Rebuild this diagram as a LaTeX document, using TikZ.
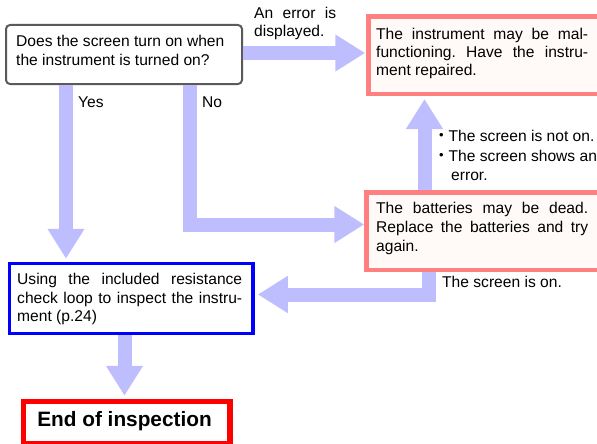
\documentclass[tikz,border=0pt]{standalone}
\usepackage{fontspec}
\setmainfont{Liberation Sans}
\usetikzlibrary{arrows.meta}
\definecolor{arrowc}{RGB}{190,190,255}
\definecolor{pinkb}{RGB}{255,128,128}
\definecolor{pinkf}{RGB}{255,250,247}
\definecolor{qgray}{RGB}{90,90,90}
\newcommand{\jline}[2]{\makebox[#1][s]{#2}}
\newcommand{\mytb}[3]{\parbox[t]{#1}{\fontsize{15.6}{#2}\selectfont #3}}
\frenchspacing
\begin{document}
\frenchspacing
\begin{tikzpicture}[x=1pt,y=-1pt,
  flow/.style={draw=arrowc,line width=14pt,line join=miter,-{Triangle[width=35pt,length=30pt]}},
  qbox/.style={draw=qgray,line width=2pt,outer sep=1pt,rounded corners=4pt,fill=white,inner sep=0pt,anchor=north west},
  pbox/.style={draw=pinkb,line width=4.5pt,outer sep=2.25pt,fill=pinkf,inner sep=0pt,anchor=north west},
  bbox/.style={draw=blue,line width=3.5pt,outer sep=1.75pt,fill=white,inner sep=0pt,anchor=north west},
  ebox/.style={draw=red,line width=5.5pt,outer sep=2.75pt,fill=white,inner sep=0pt,anchor=north west},
  txt/.style={inner sep=0pt,anchor=base west,font=\fontsize{15.6}{18}\selectfont},
  bul/.style={inner sep=0pt,font=\fontsize{13}{13}\selectfont}
]
\useasboundingbox (0,0) rectangle (597,444);

% boxes
\node[qbox,minimum width=236pt,minimum height=59pt] (q) at (5,24) {};
\node[pbox,minimum width=236pt,minimum height=77pt] (m) at (366.25,14.5) {};
\node[pbox,minimum width=238pt,minimum height=77.5pt] (bt) at (364.25,190.25) {};
\node[bbox,minimum width=243.5pt,minimum height=70pt] (b) at (7.75,261.75) {};
\node[ebox,minimum width=206.5pt,minimum height=42.5pt] (e) at (20.75,398.75) {};

% box texts
\node[txt] (tq) at (16,46.7) {\mytb{215pt}{19.3pt}{Does the screen turn on when\\ the instrument is turned on?}};
\node[txt] (tm) at (376,39.3) {\mytb{212pt}{18.3pt}{\jline{212pt}{The instrument may be mal-}\\ \jline{212pt}{functioning. Have the instru-}\\ ment repaired.}};
\node[txt] (tbt) at (376,213.3) {\mytb{212pt}{19pt}{\jline{212pt}{The batteries may be dead.}\\ \jline{212pt}{Replace the batteries and try}\\ again.}};
\node[txt] (tb) at (17,284.3) {\mytb{225pt}{18.8pt}{\jline{225pt}{Using the included resistance}\\ \jline{225pt}{check loop to inspect the instru-}\\ ment (p.24)}};
\node[inner sep=0pt,anchor=base,font=\fontsize{20.8}{24}\selectfont\bfseries] (te) at (124.5,426.7) {End of inspection};

% arrows
\draw[flow,shorten >=1pt] (q.east |- 0,53) -- (m.west |- 0,53);
\draw[flow,shorten >=3pt] (q.south -| 66,0) -- (b.north -| 66,0);
\draw[flow] (q.south -| 189.5,0) |- (bt.west |- 0,224.5);
\draw[flow,shorten >=3pt] (bt.north -| 424.5,0) -- (m.south -| 424.5,0);
\draw[flow,shorten >=3pt] (bt.south -| 428.5,0) |- (b.east |- 0,294.5);
\draw[flow,shorten >=3pt] (b.south -| 124.5,0) -- (e.north -| 124.5,0);

% labels
\node[txt] (lerr) at (254,18.3) {\mytb{82pt}{18.4pt}{\jline{82pt}{An error is}\\ displayed.}};
\node[txt] (lyes) at (78,107.7) {Yes};
\node[txt] (lno) at (202,107.7) {No};
\node[bul] (b1) at (441.5,136) {•};
\node[txt] (l1) at (448.5,141.7) {The screen is not on.};
\node[bul] (b2) at (441.5,156) {•};
\node[txt] (l2) at (448.5,161.7) {The screen shows an};
\node[txt] (l3) at (451,180) {error.};
\node[txt] (lon) at (442,287.3) {The screen is on.};
\end{tikzpicture}
\end{document}
